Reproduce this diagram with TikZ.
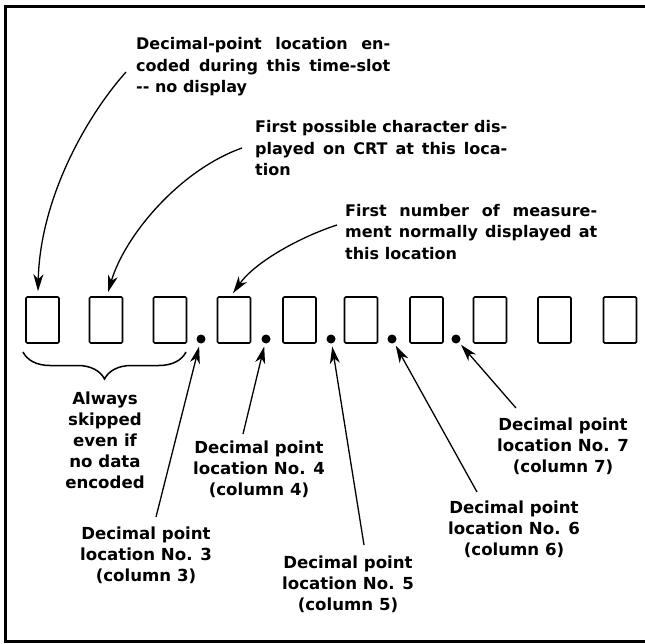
\documentclass[tikz,border=0pt]{standalone}
\usepackage{fontspec}
\setmainfont{DejaVu Sans}
\usetikzlibrary{arrows.meta,decorations.pathreplacing,calc}
\newcommand\ctxt[1]{\vtop{\baselineskip=21pt\lineskiplimit=-10pt\halign{\hfil##\hfil\cr#1\crcr}}}
\newcommand\ltxt[1]{\vtop{\baselineskip=21.3pt\lineskiplimit=-10pt\halign{##\hfil\cr#1\crcr}}}
\begin{document}
\begin{tikzpicture}[x=1pt,y=-1pt,
  slot/.style={draw, line width=1.6pt, rounded corners=1.2pt, minimum width=33pt, minimum height=46pt, inner sep=0pt},
  dp/.style={circle, fill, minimum size=9pt, inner sep=0pt},
  lbl/.style={inner sep=0pt, font=\fontsize{16}{21.3}\selectfont\bfseries},
  blbl/.style={inner sep=0pt, font=\fontsize{16.6}{21}\selectfont\bfseries},
  arr/.style={line width=1.3pt, -{Stealth[length=17pt,width=10pt,inset=5pt]}},
]
\useasboundingbox (0,0) rectangle (645,644);
\draw[line width=3pt] (660,7) -- (5,7) -- (5,641) -- (660,641);

% character slots
\foreach \i/\x in {1/42.5,2/106,3/170,4/234,5/299.5,6/361,7/426.5,8/490,9/554.5,10/620}
  \node[slot] (b\i) at (\x,320) {};

% decimal points
\node[dp] (d3) at (201,339) {};
\node[dp] (d4) at (266,339) {};
\node[dp] (d5) at (331,339) {};
\node[dp] (d6) at (392,339) {};
\node[dp] (d7) at (456,339) {};

% brace
\draw[line width=1.5pt, decorate, decoration={brace, amplitude=27pt}] (186,352) -- (23,352);

% top texts
\node[lbl, anchor=base west] (t1) at (136,50) {\ltxt{\makebox[254pt][s]{Decimal-point location en-}\cr \makebox[254pt][s]{coded during this time-slot}\cr -\kern0pt- no display}};
\node[lbl, anchor=base west] (t2) at (255,133) {\ltxt{\makebox[252pt][s]{First possible character dis-}\cr \makebox[252pt][s]{played on CRT at this loca-}\cr tion}};
\node[lbl, anchor=base west] (t3) at (345,216.5) {\ltxt{\makebox[252pt][s]{First number of measure-}\cr \makebox[252pt][s]{ment normally displayed at}\cr this location}};

\coordinate (c1) at (126,72);
\coordinate (c2) at (242,148);
\coordinate (c3) at (337,225);
\draw[arr] (c1) .. controls (85,118) and (40,200) .. ([xshift=-4.5pt,yshift=5pt]b1.north);
\draw[arr] (c2) .. controls (180,170) and (125,235) .. ([xshift=2pt,yshift=4pt]b2.north);
\draw[arr] (c3) .. controls (300,237) and (255,262) .. ([xshift=-1pt,yshift=3pt]b4.north);

% bottom labels
\node[blbl, anchor=base] (la) at (105,404) {\ctxt{Always\cr skipped\cr even if\cr no data\cr encoded}};
\node[blbl, anchor=base] (l3) at (146,539) {\ctxt{Decimal point\cr location No. 3\cr (column 3)}};
\node[blbl, anchor=base] (l4) at (259,453) {\ctxt{Decimal point\cr location No. 4\cr (column 4)}};
\node[blbl, anchor=base] (l5) at (348,568) {\ctxt{Decimal point\cr location No. 5\cr (column 5)}};
\node[blbl, anchor=base] (l6) at (514,513) {\ctxt{Decimal point\cr location No. 6\cr (column 6)}};
\node[blbl, anchor=base] (l7) at (563,430) {\ctxt{Decimal point\cr location No. 7\cr (column 7)}};

\coordinate (s3) at (156,517);
\coordinate (s4) at (243,434);
\coordinate (s5) at (364,545);
\coordinate (s6) at (477,492);
\coordinate (s7) at (516,408);
\foreach \k in {3,4,5,6,7}
  \draw[arr, shorten >=3pt] (s\k) -- (d\k);
\end{tikzpicture}
\end{document}
